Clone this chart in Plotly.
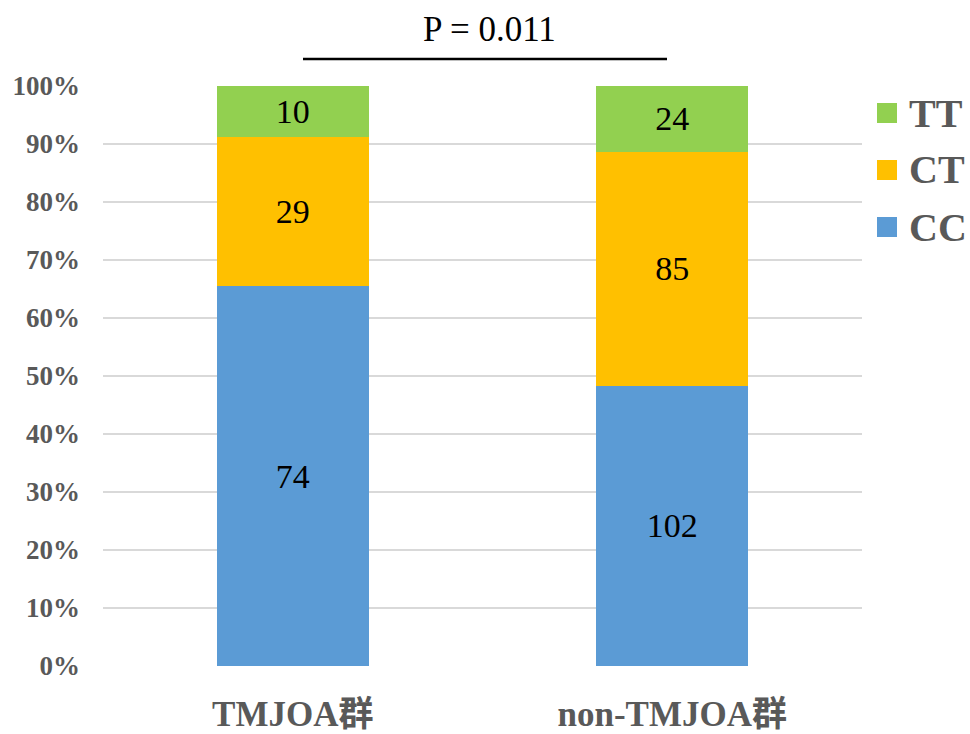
import plotly.graph_objects as go

# Genotype counts per group (stacked, shown as percent of group)
groups = ["TMJOA群", "non-TMJOA群"]
genotypes = ["CC", "CT", "TT"]
counts = {
    "CC": [74, 102],
    "CT": [29, 85],
    "TT": [10, 24],
}
colors = {"CC": "#5B9BD5", "CT": "#FFC000", "TT": "#92D050"}
y_ticks = list(range(0, 101, 10))
p_label = "P = 0.011"

SERIF = "Liberation Serif, Times New Roman, Noto Sans CJK SC, serif"
GREY = "#595959"

# plot-area geometry in pixels (used to place the hand-drawn legend)
W, H = 970, 734
L, R, T, B = 103, 108, 86, 68
pw, ph = W - L - R, H - T - B


def px_x(x):
    return (x - L) / pw


def px_y(y):
    return (H - B - y) / ph


fig = go.Figure()
for g in genotypes:
    fig.add_trace(go.Bar(
        name=g,
        x=groups,
        y=counts[g],
        text=[str(v) for v in counts[g]],
        textposition="inside",
        insidetextanchor="middle",
        textangle=0,
        textfont=dict(family=SERIF, size=34, color="#000000"),
        marker=dict(color=colors[g], line=dict(width=0)),
        width=0.4,
        showlegend=False,
        hoverinfo="skip",
    ))

# Legend: coloured squares with bold labels, TT on top
legend_rows = [("TT", 113), ("CT", 170), ("CC", 227)]
for name, yc in legend_rows:
    fig.add_shape(type="rect", xref="paper", yref="paper",
                  x0=px_x(877), x1=px_x(897), y0=px_y(yc + 10), y1=px_y(yc - 10),
                  fillcolor=colors[name], line=dict(width=0))
    fig.add_annotation(x=px_x(907), y=px_y(yc), xref="paper", yref="paper",
                       text=f"<b>{name}</b>", showarrow=False,
                       xanchor="left", yanchor="middle",
                       font=dict(family=SERIF, size=40, color=GREY))

# Significance label and bar above the columns
fig.add_annotation(x=px_x(489), y=px_y(29), xref="paper", yref="paper",
                   text=p_label, showarrow=False, xanchor="center", yanchor="middle",
                   font=dict(family=SERIF, size=35, color="#000000"))
fig.add_shape(type="line", xref="paper", yref="paper",
              x0=px_x(303), x1=px_x(667), y0=px_y(59), y1=px_y(59),
              line=dict(color="#000000", width=2.5))

fig.update_layout(
    width=W, height=H,
    margin=dict(l=L, r=R, t=T, b=B),
    barmode="stack",
    barnorm="percent",
    plot_bgcolor="white",
    paper_bgcolor="white",
    xaxis=dict(
        range=[-0.5, 1.5],
        showgrid=False, zeroline=False, showline=False, ticks="",
        tickfont=dict(family=SERIF, size=35, color=GREY),
        tickvals=groups,
        ticktext=[f"<b>{g}</b>" for g in groups],
        ticklabelstandoff=24,
        automargin=False,
    ),
    yaxis=dict(
        range=[0, 100],
        tickvals=y_ticks,
        ticktext=[f"<b>{v}%</b>" for v in y_ticks],
        tickfont=dict(family=SERIF, size=27, color=GREY),
        showgrid=True, gridcolor="#D9D9D9", gridwidth=1.5,
        zeroline=False, showline=False, ticks="",
        ticklabelstandoff=22,
        automargin=False,
    ),
)

fig.write_html("out.html")
